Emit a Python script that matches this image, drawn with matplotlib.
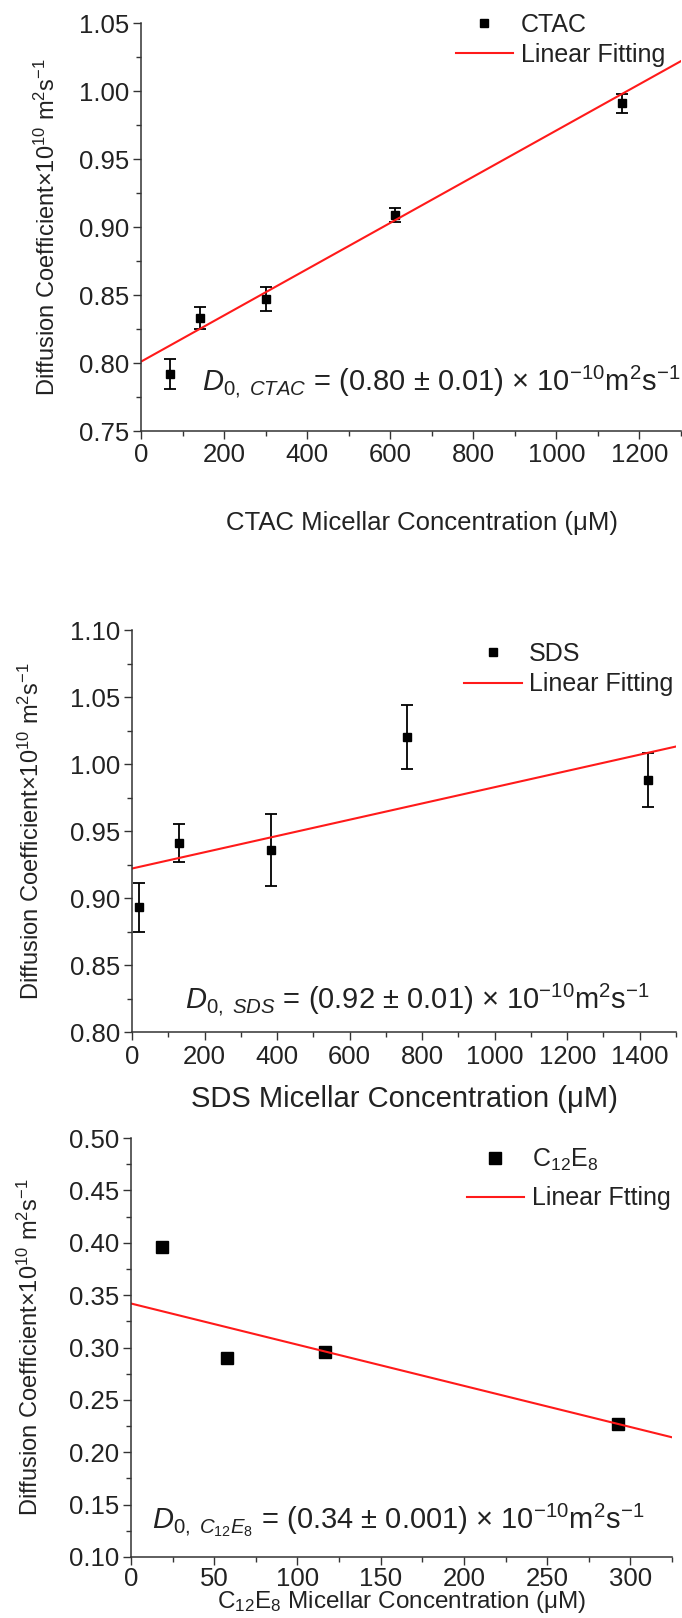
import numpy as np
import matplotlib
matplotlib.use("Agg")
import matplotlib.pyplot as plt
from matplotlib import font_manager
from matplotlib.ticker import MultipleLocator, FormatStrFormatter

plt.rcParams['font.family'] = ['Liberation Sans', 'DejaVu Sans']
plt.rcParams['mathtext.fontset'] = 'custom'
plt.rcParams['mathtext.rm'] = 'Liberation Sans'
plt.rcParams['mathtext.it'] = 'Liberation Sans:italic'
plt.rcParams['mathtext.bf'] = 'Liberation Sans:bold'

# narrow face for the big equations, if it is there
names = {f.name for f in font_manager.fontManager.ttflist}
if 'Liberation Sans Narrow' in names:
    eq_family, eq_size = 'Liberation Sans Narrow', 26
else:
    eq_family, eq_size = 'Liberation Sans', 21

# CTAC panel
ctac_conc = [69, 142, 301, 611, 1158]
ctac_diff = [0.792, 0.833, 0.847, 0.909, 0.991]
ctac_err = [0.011, 0.008, 0.009, 0.005, 0.007]
ctac_fit = (0.801, 1.70e-4)   # intercept, slope

# SDS panel
sds_conc = [20, 129, 383, 758, 1424]
sds_diff = [0.893, 0.941, 0.936, 1.020, 0.988]
sds_err = [0.018, 0.014, 0.027, 0.024, 0.020]
sds_fit = (0.922, 6.07e-5)

# C12E8 panel
c12_conc = [18.6, 57.7, 116.3, 292.4]
c12_diff = [0.396, 0.290, 0.296, 0.227]
c12_fit = (0.342, -3.93e-4)

W, H = 682, 1618
fig = plt.figure(figsize=(W / 100, H / 100), dpi=100)

def make_axes(left, right, top, bottom):
    return fig.add_axes([left / W, 1 - bottom / H, (right - left) / W, (bottom - top) / H])

ylab = 'Diffusion Coefficient\u00d710$^{10}$ m$^{2}$s$^{-1}$'

def style(ax, xlim, xmaj, ylim, ymaj, xlabel, xlab_pos, ylab_pos, xl_size, xpad=3):
    ax.set_xlim(*xlim)
    ax.set_ylim(*ylim)
    ax.xaxis.set_major_locator(MultipleLocator(xmaj))
    ax.xaxis.set_minor_locator(MultipleLocator(xmaj / 2))
    ax.yaxis.set_major_locator(MultipleLocator(ymaj))
    ax.yaxis.set_minor_locator(MultipleLocator(ymaj / 2))
    ax.yaxis.set_major_formatter(FormatStrFormatter('%.2f'))
    for s in ['top', 'right']:
        ax.spines[s].set_visible(False)
    for s in ['left', 'bottom']:
        ax.spines[s].set_linewidth(1.1)
        ax.spines[s].set_color('#333333')
    ax.tick_params(which='major', direction='out', length=6, width=1, labelsize=18.5,
                   pad=2.5, colors='#333333', labelcolor='#222222')
    ax.tick_params(which='minor', direction='out', length=3.5, width=1, colors='#333333')
    ax.tick_params(axis='x', which='major', pad=xpad)
    ax.set_xlabel(xlabel, fontsize=xl_size, color='#222222', va='center')
    ax.xaxis.set_label_coords(xlab_pos[0], xlab_pos[1])
    ax.set_ylabel(ylab, fontsize=17, color='#222222', va='center')
    ax.yaxis.set_label_coords(ylab_pos, 0.5)

def equation(ax, x, y, s):
    ax.text(x, y, s, transform=ax.transAxes, fontsize=eq_size, family=eq_family,
            ha='left', va='center', color='#222222')

leg_kw = dict(loc='upper right', frameon=False, fontsize=18, handlelength=2.3,
              handletextpad=0.3, borderaxespad=0, borderpad=0, labelcolor='#222222')

# ---- panel 1: CTAC
ax1 = make_axes(141, 681, 23, 431)
ax1.errorbar(ctac_conc, ctac_diff, yerr=ctac_err, fmt='none', ecolor='black',
             elinewidth=1.3, capsize=4, capthick=1.3)
ax1.plot(ctac_conc, ctac_diff, 's', color='black', ms=6, label='CTAC')
fx = np.array([0, 1300])
ax1.plot(fx, ctac_fit[0] + ctac_fit[1] * fx, color='#ff1a1a', lw=1.5, label='Linear Fitting')
style(ax1, (0, 1300), 200, (0.75, 1.05), 0.05,
      'CTAC Micellar Concentration (\u03bcM)', (0.52, -0.225), -0.174, 18.5)
ax1.legend(bbox_to_anchor=(0.97, 1.025), labelspacing=0.25, **leg_kw)
equation(ax1, 0.113, 0.12,
         '$D_{\\mathit{0,\\ CTAC}}$ = (0.80 \u00b1 0.01) \u00d7 10$^{-10}$m$^{2}$s$^{-1}$')

# ---- panel 2: SDS
ax2 = make_axes(132, 676, 630, 1032)
ax2.errorbar(sds_conc, sds_diff, yerr=sds_err, fmt='none', ecolor='black',
             elinewidth=1.3, capsize=4, capthick=1.3)
ax2.plot(sds_conc, sds_diff, 's', color='black', ms=5.5, label='SDS')
fx = np.array([0, 1500])
ax2.plot(fx, sds_fit[0] + sds_fit[1] * fx, color='#ff1a1a', lw=1.5, label='Linear Fitting')
style(ax2, (0, 1500), 200, (0.80, 1.10), 0.05,
      'SDS Micellar Concentration (\u03bcM)', (0.5, -0.167), -0.186, 21)
ax2.legend(bbox_to_anchor=(0.995, 0.97), labelspacing=0.25, **leg_kw)
equation(ax2, 0.097, 0.08,
         '$D_{\\mathit{0,\\ SDS}}$ = (0.92 \u00b1 0.01) \u00d7 10$^{-10}$m$^{2}$s$^{-1}$')

# ---- panel 3: C12E8
ax3 = make_axes(131, 672, 1138, 1557)
ax3.plot(c12_conc, c12_diff, 's', color='black', ms=8.5, label='C$_{12}$E$_{8}$')
fx = np.array([0, 325])
ax3.plot(fx, c12_fit[0] + c12_fit[1] * fx, color='#ff1a1a', lw=1.5, label='Linear Ftting')
style(ax3, (0, 325), 50, (0.10, 0.50), 0.05,
      'C$_{12}$E$_{8}$ Micellar Concentration (\u03bcM)', (0.5, -0.108), -0.187, 17.5, xpad=1.5)
ax3.legend(bbox_to_anchor=(0.997, 0.98), labelspacing=0.55, **leg_kw)
equation(ax3, 0.039, 0.0875,
         '$D_{\\mathit{0,\\ C_{12}E_{8}}}$ = (0.34 \u00b1 0.001) \u00d7 10$^{-10}$m$^{2}$s$^{-1}$')

fig.savefig('out.png', dpi=100, facecolor='white')
